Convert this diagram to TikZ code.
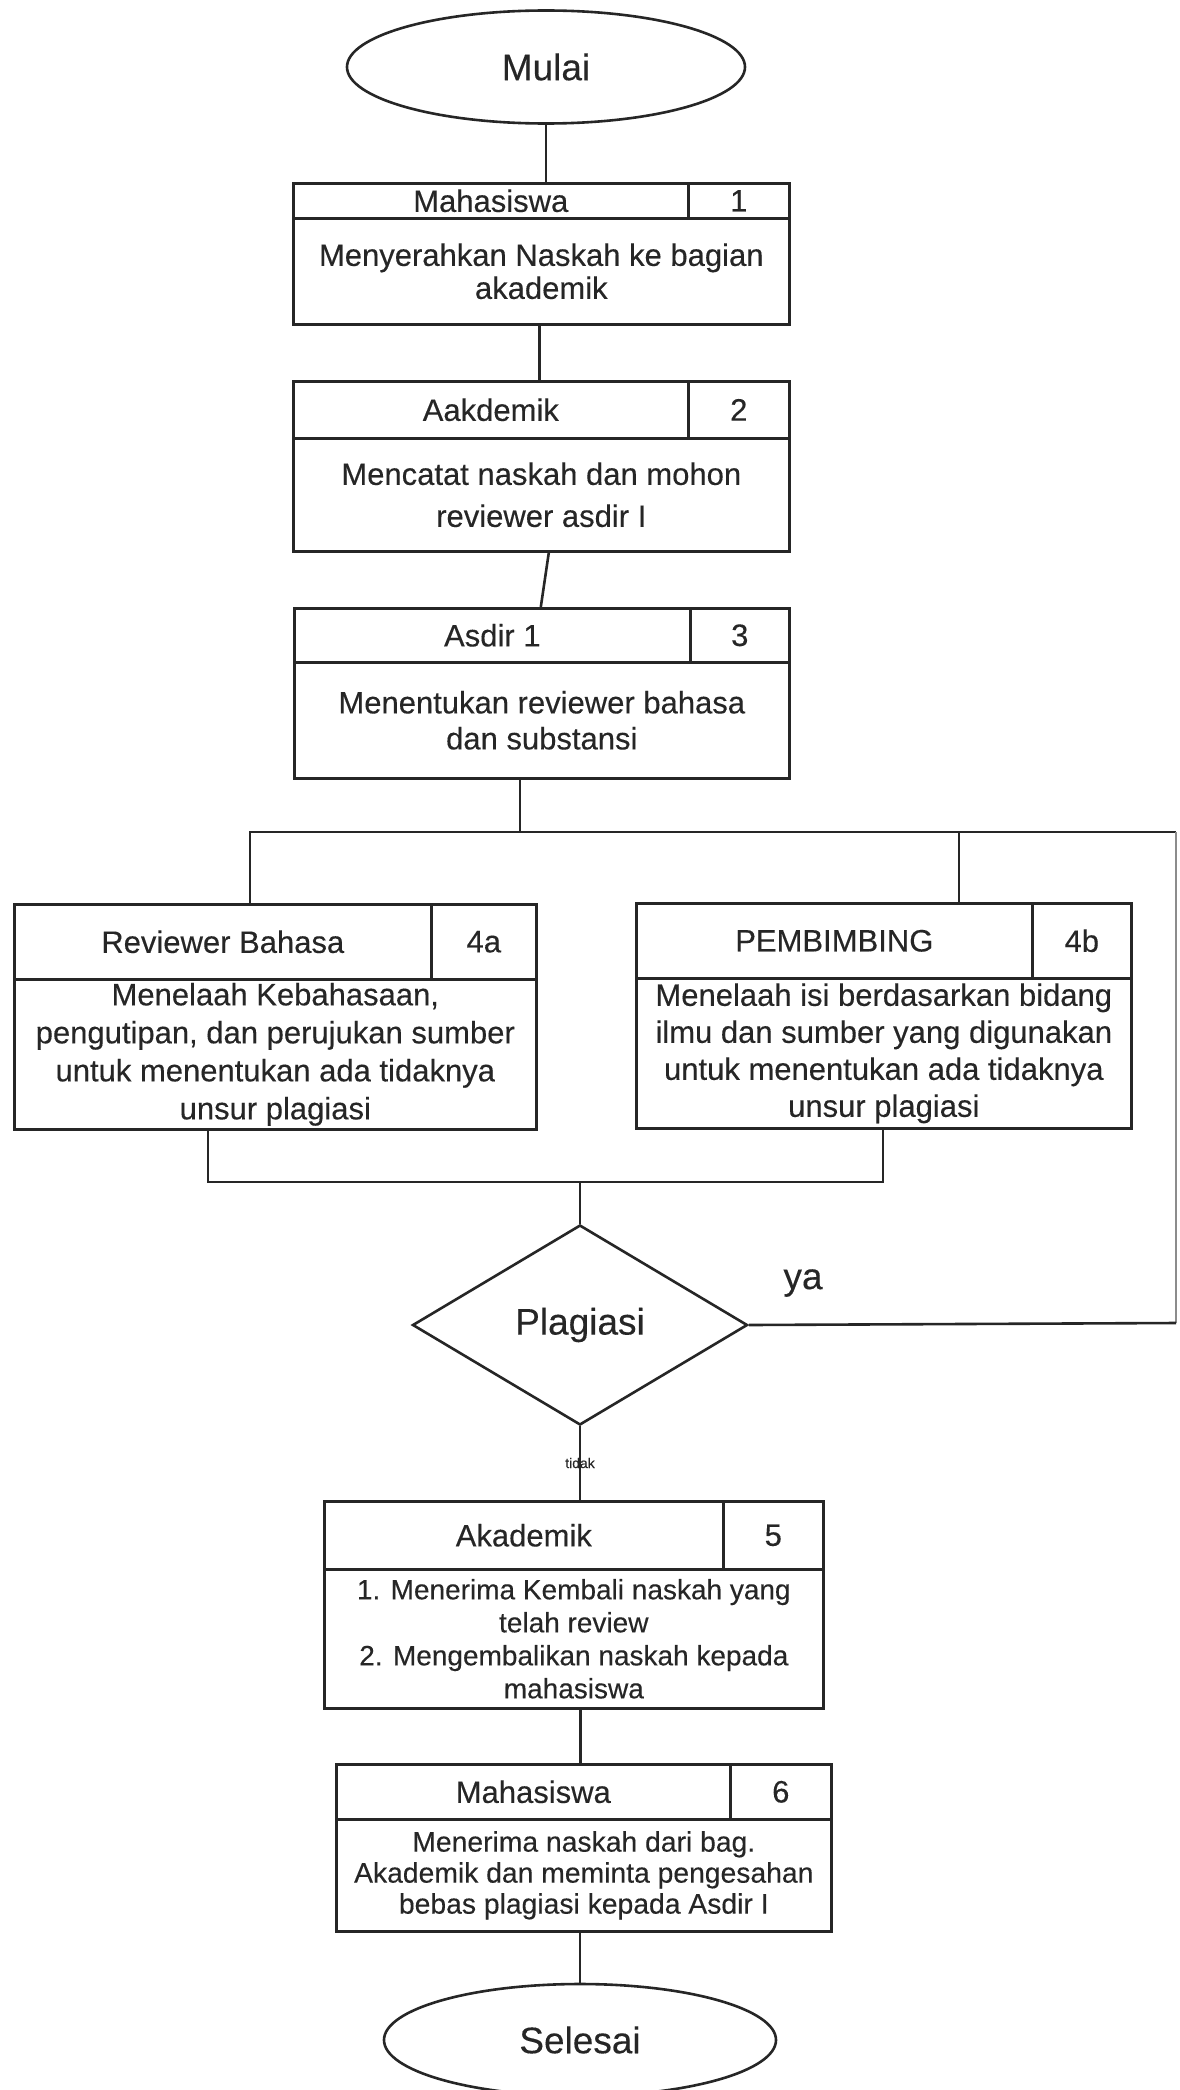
\documentclass[tikz,border=0pt]{standalone}
\usepackage{fontspec}
\setmainfont{Liberation Sans}[FakeBold=0.25]
\usetikzlibrary{shapes.geometric}
\begin{document}
\begin{tikzpicture}[x=1pt,y=-1pt,
  ink/.style={draw=black!85, line width=2.6pt},
  cell/.style={ink, rectangle, fill=white, inner sep=0pt, anchor=north west,
    align=center, text=black!85, font=\fontsize{31}{33}\selectfont},
  link/.style={draw=black!85, line width=2.6pt},
  faint/.style={draw=black!45, line width=1.6pt},
  terminal/.style={ink, ellipse, fill=white, inner sep=0pt, text=black!85,
    font=\fontsize{37}{44}\selectfont},
  decision/.style={ink, diamond, fill=white, inner sep=0pt, text=black!85,
    font=\fontsize{37}{44}\selectfont},
  tag/.style={inner sep=0pt, text=black!85}
]
\useasboundingbox[fill=white] (0,0) rectangle (1179,2090);

% start
\node[terminal, minimum width=398pt, minimum height=113pt] (mulai) at (546,67) {Mulai};

% step 1
\node[cell, minimum width=395pt, minimum height=35pt] (h1) at (292,182) {Mahasiswa};
\node[cell, minimum width=101pt, minimum height=35pt] (n1) at (687,182) {1};
\node[cell, minimum width=496pt, minimum height=106pt] (d1) at (292,217)
  {Menyerahkan Naskah ke bagian\\akademik};

% step 2
\node[cell, minimum width=395pt, minimum height=57pt] (h2) at (292,380) {Aakdemik};
\node[cell, minimum width=101pt, minimum height=57pt] (n2) at (687,380) {2};
\node[cell, minimum width=496pt, minimum height=113pt, font=\fontsize{31}{42}\selectfont] (d2) at (292,437)
  {Mencatat naskah dan mohon\\reviewer asdir I};

% step 3
\node[cell, minimum width=396pt, minimum height=54pt] (h3) at (293,607) {Asdir 1};
\node[cell, minimum width=99pt, minimum height=54pt] (n3) at (689,607) {3};
\node[cell, minimum width=495pt, minimum height=116pt, font=\fontsize{31}{36}\selectfont] (d3) at (293,661)
  {Menentukan reviewer bahasa\\dan substansi};

% step 4a
\node[cell, minimum width=417pt, minimum height=75pt] (h4a) at (13,903) {Reviewer Bahasa};
\node[cell, minimum width=105pt, minimum height=75pt] (n4a) at (430,903) {4a};
\node[cell, minimum width=522pt, minimum height=150pt, font=\fontsize{31}{38}\selectfont] (d4a) at (13,978)
  {Menelaah Kebahasaan,\\pengutipan, dan perujukan sumber\\untuk menentukan ada tidaknya\\unsur plagiasi};

% step 4b
\node[cell, minimum width=396pt, minimum height=75pt] (h4b) at (635,902) {PEMBIMBING};
\node[cell, minimum width=99pt, minimum height=75pt] (n4b) at (1031,902) {4b};
\node[cell, minimum width=495pt, minimum height=150pt, font=\fontsize{31}{37}\selectfont] (d4b) at (635,977)
  {Menelaah isi berdasarkan bidang\\ilmu dan sumber yang digunakan\\untuk menentukan ada tidaknya\\unsur plagiasi};

% decision
\node[decision, aspect=1.675, minimum width=335pt, minimum height=200pt] (dia) at (580,1325) {Plagiasi};

% step 5
\node[cell, minimum width=399pt, minimum height=68pt] (h5) at (323,1500) {Akademik};
\node[cell, minimum width=100pt, minimum height=68pt] (n5) at (722,1500) {5};
\node[cell, minimum width=499pt, minimum height=139pt, font=\fontsize{28}{33}\selectfont] (d5) at (323,1568)
  {1. Menerima Kembali naskah yang\\telah review\\2. Mengembalikan naskah kepada\\mahasiswa};

% step 6
\node[cell, minimum width=394pt, minimum height=55pt] (h6) at (335,1763) {Mahasiswa};
\node[cell, minimum width=101pt, minimum height=55pt] (n6) at (729,1763) {6};
\node[cell, minimum width=495pt, minimum height=112pt, font=\fontsize{28.3}{31}\selectfont] (d6) at (335,1818)
  {Menerima naskah dari bag.\\Akademik dan meminta pengesahan\\bebas plagiasi kepada Asdir I};

% end
\node[terminal, minimum width=392pt, minimum height=112pt] (selesai) at (580,2040) {Selesai};

% junction points of the branch and merge lines
\coordinate (j3) at (520,832);
\coordinate (busL) at (250,832);
\coordinate (busB) at (959,832);
\coordinate (busR) at (1176,832);
\coordinate (yaR) at (1176,1323);
\coordinate (mL) at (208,1182);
\coordinate (mC) at (580,1182);
\coordinate (mR) at (883,1182);

% connectors
\draw[link] (mulai.south) -- (mulai.south |- h1.north);
\draw[link] ([xshift=-2pt]d1.south) -- ([xshift=-2pt]d1.south |- h2.north);
\draw[link] ([xshift=7.5pt]d2.south) -- ([xshift=-0.5pt]d2.south |- h3.north);
\draw[link] (j3 |- d3.south) -- (j3);
\draw[link] (h4a.north -| busL) -- (busL) -- (busR);
\draw[link] (busB) -- (h4b.north -| busB);
\draw[faint] (busR) -- (yaR);
\draw[link] (dia.east) -- (yaR);
\draw[link] (d4a.south -| mL) -- (mL) -- (mR) -- (d4b.south -| mR);
\draw[link] (mC) -- (dia.north);
\draw[link] (dia.south) -- (dia.south |- h5.north);
\draw[link] ([xshift=6.5pt]d5.south) -- ([xshift=6.5pt]d5.south |- h6.north);
\draw[link] (selesai.north |- d6.south) -- (selesai.north);

% branch labels
\node[tag, font=\fontsize{37}{44}\selectfont] (lya) at (803,1283) {ya};
\node[tag, font=\fontsize{14}{16}\selectfont] (ltidak) at (580,1463) {tidak};
\end{tikzpicture}
\end{document}
